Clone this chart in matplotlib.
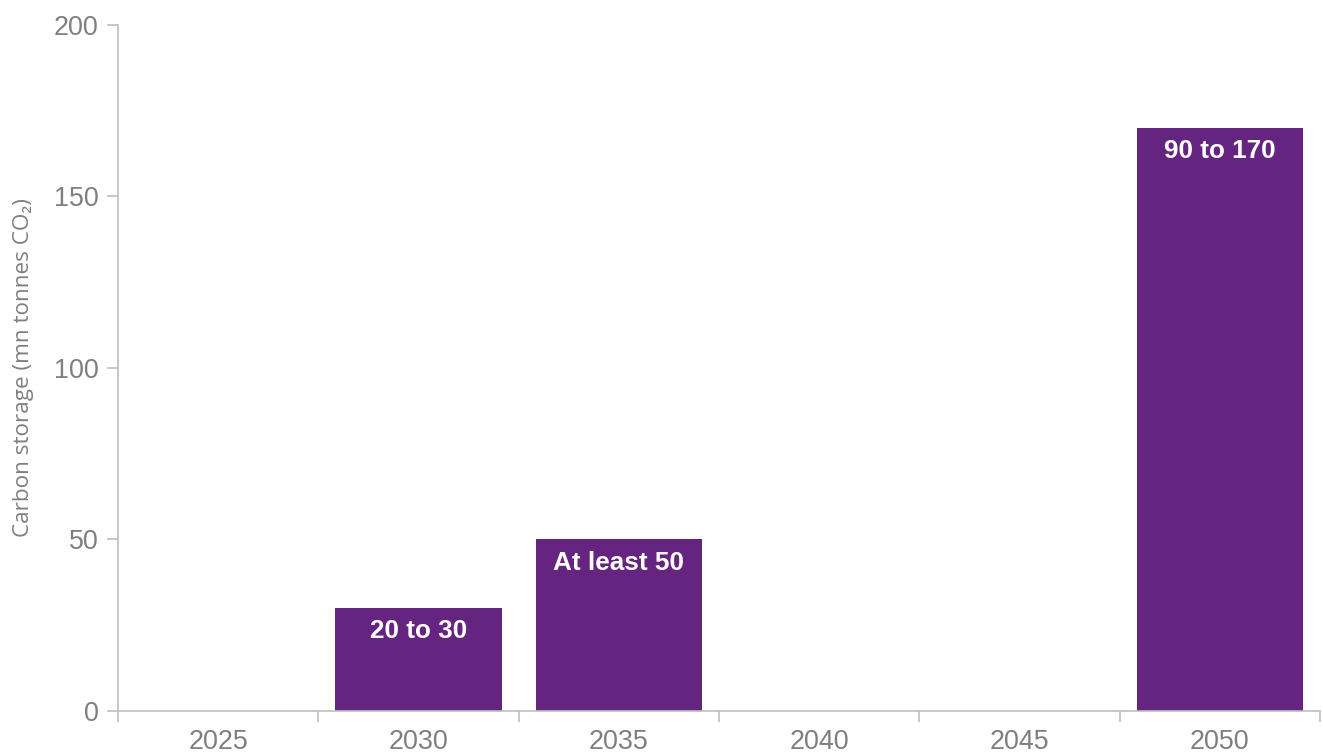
import numpy as np
import matplotlib
matplotlib.use('Agg')
import matplotlib.pyplot as plt

years = ['2025', '2030', '2035', '2040', '2045', '2050']
storage = [0, 30, 50, 0, 0, 170]
labels = ['', '20 to 30', 'At least 50', '', '', '90 to 170']

purple = '#65247f'
grey = '#7f7f7f'
axis_grey = '#bfbfbf'

fig = plt.figure(figsize=(13.23, 7.55), dpi=100)
ax = fig.add_axes([0.0892, 0.0583, 0.9085, 0.9086])

x = np.arange(len(years))
bars = ax.bar(x, storage, width=0.83, color=purple, zorder=2)

for b, lab in zip(bars, labels):
	if not lab:
		continue
	ax.annotate(lab, (b.get_x() + b.get_width() / 2, b.get_height()),
		xytext=(0, -8), textcoords='offset points', ha='center', va='top',
		color='white', fontsize=18.8, fontweight='bold', family='Liberation Sans')

ax.set_xlim(-0.5, len(years) - 0.5)
ax.set_ylim(0, 200)
ax.set_yticks([0, 50, 100, 150, 200])
ax.set_xticks(x)
ax.set_xticklabels(years)
ax.set_xticks(np.arange(-0.5, len(years)), minor=True)

for s in ['top', 'right']:
	ax.spines[s].set_visible(False)
for s in ['left', 'bottom']:
	ax.spines[s].set_color(axis_grey)
	ax.spines[s].set_linewidth(1.2)

ax.tick_params(axis='x', which='major', length=0, pad=13)
ax.tick_params(axis='x', which='minor', length=8, color=axis_grey, width=1.2)
ax.tick_params(axis='y', length=8, color=axis_grey, width=1.2, pad=6)
for t in ax.get_xticklabels() + ax.get_yticklabels():
	t.set_fontfamily('Liberation Sans')
	t.set_fontsize(19.4)
	t.set_color(grey)

ax.set_ylabel('Carbon storage (mn tonnes CO₂)', fontsize=16.2, color=grey,
	family='Open Sans', labelpad=14)

fig.savefig('out.png', dpi=100)
